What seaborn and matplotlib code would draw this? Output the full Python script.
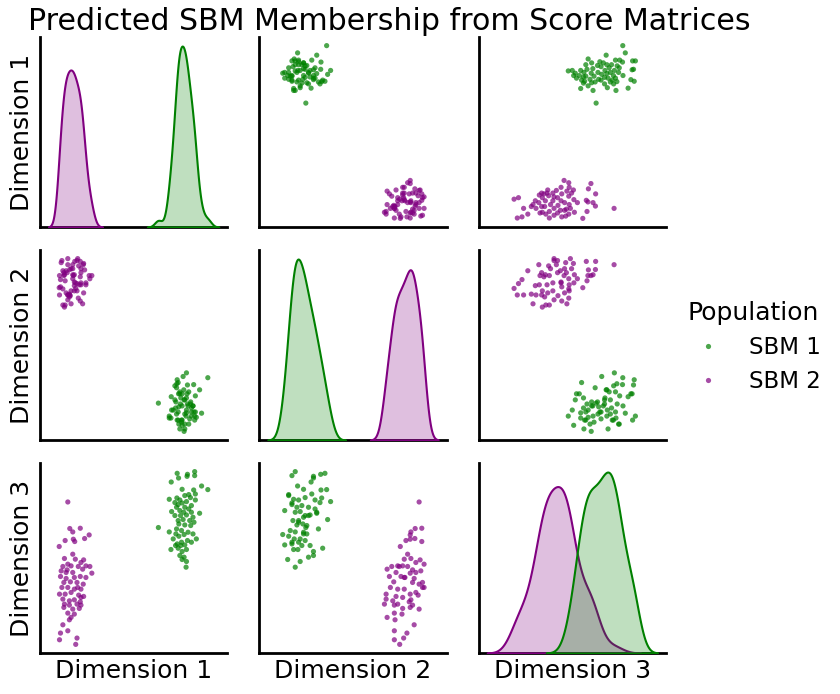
import numpy as np
import pandas as pd
import matplotlib
matplotlib.use("Agg")
import matplotlib.pyplot as plt
import seaborn as sns

# SBM 1: (Dimension 1, Dimension 3) pairs
sbm1_dim1 = [177.3, 195.0, 187.7, 195.0, 178.7, 187.3, 171.3, 202.0, 208.3, 182.3,
             194.0, 195.7, 189.0, 169.3, 177.0, 180.0, 185.0, 190.7, 195.7, 175.0,
             178.3, 182.3, 186.7, 191.7, 176.7, 185.0, 189.0, 171.7, 180.0, 184.0,
             191.7, 200.0, 175.0, 180.7, 186.7, 193.3, 178.3, 183.3, 190.0, 194.3,
             179.0, 185.0, 191.0, 158.3, 176.7, 181.7, 169.3, 188.3, 193.3, 176.0,
             179.0, 184.3, 196.7, 173.3, 187.7, 181.7, 177.3, 185.0, 171.0, 178.3,
             182.3, 186.7, 180.0, 184.3, 186.7, 182.3, 186.3, 175.7, 191.7, 181.0]
sbm1_dim3_a = [179.0, 180.7, 178.0, 176.7, 174.3, 176.0, 170.3, 166.3, 162.7, 163.0,
               162.3, 158.3, 157.7, 153.0, 154.3, 152.3, 156.7, 154.7, 152.3, 149.7,
               147.7, 149.3, 150.7, 146.7, 145.0, 145.0, 143.3, 140.7, 141.7, 140.0,
               140.0, 139.0, 136.7, 136.7, 137.3, 135.0, 131.7, 132.7, 131.7, 130.0,
               128.3, 127.3, 126.7, 124.7, 123.3, 121.7, 120.3, 120.0, 118.3, 118.3,
               116.0, 117.7, 113.3, 113.3, 111.7, 110.0, 108.3, 107.3, 102.7, 104.0,
               100.7, 102.7, 96.7, 95.0, 90.7, 92.7, 85.0, 106.7, 110.0, 106.7]
# SBM 1: (Dimension 2, Dimension 3) pairs
sbm1_dim2 = [293.3, 290.0, 311.7, 309.3, 319.0, 323.3, 295.7, 301.7, 286.7, 291.7,
             296.7, 303.3, 310.0, 313.3, 319.3, 325.0, 320.0, 329.0, 282.7, 290.0,
             295.0, 300.0, 306.7, 313.3, 318.3, 293.3, 298.3, 303.3, 308.3, 315.0,
             301.7, 306.7, 291.0, 296.7, 301.0, 326.0, 295.0, 305.0, 304.0, 316.7,
             288.3, 293.3, 301.7, 305.0, 280.7, 286.7, 292.3, 298.3, 303.3, 296.7,
             282.7, 290.0, 300.0, 308.3, 321.0, 291.7, 296.0, 311.7, 306.7, 285.7,
             298.3, 293.3]
sbm1_dim3_b = [180.3, 175.3, 174.3, 170.0, 176.7, 178.0, 166.3, 162.3, 154.3, 153.3,
               151.7, 154.0, 155.0, 151.7, 156.7, 157.7, 153.3, 148.7, 145.0, 148.3,
               146.7, 147.7, 146.7, 146.7, 148.3, 141.7, 143.3, 139.3, 140.0, 140.7,
               136.7, 136.7, 132.7, 131.7, 130.7, 135.7, 128.3, 128.3, 125.7, 124.3,
               120.7, 120.0, 119.0, 118.3, 117.7, 116.0, 115.0, 113.3, 111.7, 109.3,
               107.3, 108.3, 105.0, 106.7, 102.7, 100.0, 99.3, 97.7, 94.3, 91.7,
               90.7, 85.0]

# SBM 2: (Dimension 1, Dimension 3) pairs
sbm2_dim1 = [66.7, 68.7, 71.7, 79.3, 88.3, 83.7, 64.0, 72.3, 73.7, 58.0,
             71.7, 63.3, 74.3, 82.7, 66.7, 80.0, 61.7, 70.0, 77.3, 85.0,
             89.0, 60.0, 66.0, 71.7, 81.7, 91.0, 59.3, 65.0, 73.3, 79.3,
             85.0, 62.7, 69.3, 76.0, 82.3, 60.7, 66.7, 73.3, 80.0, 58.3,
             64.0, 70.0, 77.7, 82.7, 61.7, 68.3, 73.3, 79.3, 63.3, 68.3,
             76.0, 80.0, 62.7, 71.7, 78.3, 66.7, 73.3, 70.0, 68.3, 61.7,
             66.7, 59.3, 76.0, 58.3, 74.7, 80.0, 65.0, 76.7]
sbm2_dim3_a = [150.3, 123.7, 120.3, 124.0, 117.3, 113.7, 111.7, 113.0, 110.7, 105.7,
               98.0, 93.7, 93.0, 92.3, 88.0, 89.7, 85.7, 86.3, 85.7, 86.3,
               85.7, 81.3, 82.3, 79.7, 83.0, 79.0, 75.7, 73.7, 74.7, 75.7,
               74.7, 69.7, 70.3, 69.7, 68.0, 64.7, 64.7, 63.0, 63.0, 58.0,
               58.0, 59.7, 57.0, 55.7, 53.0, 51.3, 52.3, 50.3, 48.0, 47.0,
               48.0, 47.0, 44.7, 43.0, 43.7, 39.0, 38.0, 34.7, 32.3, 27.3,
               21.3, 19.0, 14.0, 12.3, 7.7, 54.7, 79.7, 64.7]
# SBM 2: (Dimension 2, Dimension 3) pairs
sbm2_dim2 = [418.3, 414.3, 421.0, 410.0, 409.3, 405.0, 409.3, 414.0, 421.0, 399.3,
             406.7, 403.3, 410.0, 415.0, 419.3, 386.0, 390.7, 396.7, 401.7, 406.7,
             411.7, 416.7, 423.3, 388.3, 395.0, 400.0, 404.0, 409.3, 415.0, 420.0,
             403.3, 413.3, 421.7, 392.7, 411.7, 418.3, 423.3, 415.0, 389.3, 385.0,
             396.7, 403.3, 409.3, 417.3, 395.0, 401.7, 385.0, 410.0, 391.7, 396.7,
             403.3, 408.3, 383.3, 411.7, 393.3, 401.7, 409.3, 418.3, 393.3, 401.0,
             386.0, 394.0, 413.3, 393.3, 406.0, 402.7, 393.3, 398.7, 421.7, 398.3]
sbm2_dim3_b = [150.3, 123.7, 124.0, 120.3, 116.3, 111.3, 112.0, 113.0, 105.7, 98.0,
               96.3, 93.0, 93.7, 91.3, 92.0, 84.7, 85.7, 86.3, 87.0, 85.7,
               84.7, 86.3, 88.0, 78.0, 81.3, 79.7, 77.0, 80.3, 81.3, 83.0,
               74.7, 73.0, 72.3, 73.0, 69.0, 68.0, 64.7, 63.0, 66.3, 63.0,
               63.0, 63.7, 59.7, 59.7, 56.3, 56.3, 55.7, 55.7, 51.3, 48.0,
               48.0, 49.7, 47.0, 45.7, 44.7, 43.0, 43.0, 41.3, 40.3, 37.0,
               34.0, 32.3, 27.3, 21.3, 19.0, 14.0, 12.0, 7.7, 66.3, 84.7]

populations = ["SBM 1", "SBM 2"]
colors = {"SBM 1": "green", "SBM 2": "purple"}
dims = ["Dimension 1", "Dimension 2", "Dimension 3"]


def combine(d1, d3a, d2, d3b, label):
    d1, d3a, d2, d3b = map(np.asarray, (d1, d3a, d2, d3b))
    oa = np.argsort(d3a)[::-1]
    ob = np.argsort(d3b)[::-1]
    n, m = len(oa), len(ob)
    idx = [ob[int(round(i * (m - 1) / (n - 1)))] for i in range(n)]
    return pd.DataFrame({dims[0]: d1[oa], dims[1]: d2[idx], dims[2]: d3a[oa],
                         "Population": label})


df = pd.concat([
    combine(sbm1_dim1, sbm1_dim3_a, sbm1_dim2, sbm1_dim3_b, populations[0]),
    combine(sbm2_dim1, sbm2_dim3_a, sbm2_dim2, sbm2_dim3_b, populations[1]),
], ignore_index=True)

sns.set_theme(style="white", context="talk")
plt.rcParams.update({"axes.edgecolor": "black", "text.color": "black",
                     "axes.labelcolor": "black"})

g = sns.pairplot(df, vars=dims, hue="Population", palette=colors,
                 diag_kind="kde", height=2.3,
                 plot_kws=dict(s=14, alpha=0.7, linewidth=0))
g.set(xticks=[], yticks=[])
fig = g.figure
fig.set_size_inches(8.4, 6.94)
fig.subplots_adjust(left=40 / 840, right=666 / 840, top=1 - 37 / 694,
                    bottom=1 - 653 / 694, wspace=0.171, hspace=0.121)
for ax in g.axes.flat:
    for s in ("left", "bottom"):
        ax.spines[s].set_linewidth(2)
        ax.spines[s].set_color("black")

sns.move_legend(g, "center left", bbox_to_anchor=(0.791, 0.5), frameon=False)
fig.suptitle("Predicted SBM Membership from Score Matrices", fontsize=21.6,
             x=389 / 840, y=1 - 22 / 694, va="center")
fig.savefig("out.png", dpi=100)
